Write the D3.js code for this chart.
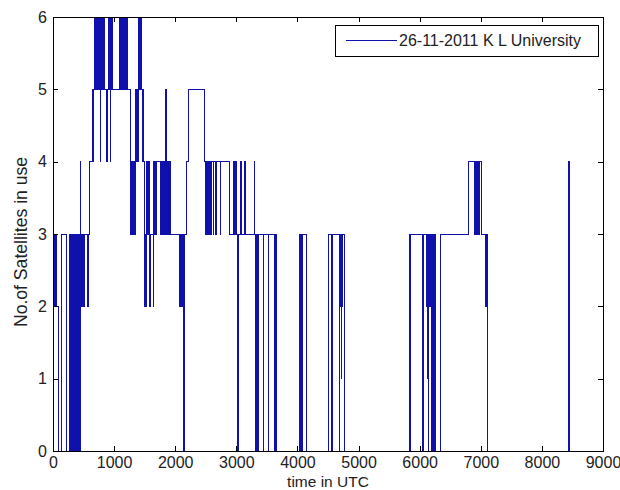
<!DOCTYPE html>
<html>
<head>
<meta charset="utf-8">
<script src="https://cdn.jsdelivr.net/npm/d3@7"></script>
<style>
  body { margin: 0; background: #fff; }
  svg { display: block; font-family: "Liberation Sans", Arial, sans-serif; }
</style>
</head>
<body>
<script>
// time stamps (s, UTC) where the satellite count changes
var timeUtc = [
  0, 10, 20, 30, 40, 50, 87, 142, 213, 267,
  282, 297, 312, 327, 342, 357, 376, 391, 406, 421,
  436, 442, 450, 465, 475, 485, 495, 505, 515, 562,
  575, 594, 650, 660, 670, 676, 690, 700, 712, 722,
  735, 745, 758, 770, 780, 785, 798, 810, 822, 832,
  840, 880, 886, 900, 912, 922, 934, 940, 952, 965,
  972, 1080, 1092, 1104, 1116, 1128, 1140, 1150, 1160, 1178,
  1190, 1200, 1216, 1260, 1272, 1284, 1296, 1308, 1320, 1332,
  1342, 1354, 1366, 1378, 1391, 1402, 1414, 1426, 1440, 1456,
  1466, 1478, 1488, 1494, 1505, 1520, 1532, 1545, 1560, 1587,
  1600, 1641, 1650, 1660, 1672, 1684, 1696, 1760, 1772, 1784,
  1796, 1808, 1820, 1832, 1848, 1855, 1868, 1880, 1892, 1905,
  1918, 1930, 2067, 2080, 2110, 2120, 2132, 2142, 2150, 2190,
  2225, 2487, 2503, 2515, 2527, 2540, 2552, 2565, 2580, 2590,
  2620, 2628, 2665, 2672, 2740, 2748, 2885, 2950, 2960, 2970,
  2980, 2990, 3005, 3016, 3022, 3030, 3070, 3080, 3141, 3150,
  3290, 3305, 3312, 3320, 3328, 3336, 3344, 3352, 3360, 3368,
  3441, 3448, 3523, 3530, 3632, 3640, 3648, 3655, 3662, 4041,
  4049, 4057, 4065, 4073, 4081, 4089, 4140, 4505, 4559, 4566,
  4573, 4580, 4684, 4690, 4700, 4708, 4716, 4724, 4732, 4739,
  4777, 5830, 5836, 5842, 5848, 5854, 6048, 6060, 6113, 6120,
  6128, 6136, 6140, 6146, 6152, 6160, 6168, 6174, 6195, 6202,
  6233, 6240, 6266, 6348, 6806, 6904, 6912, 6920, 6928, 6936,
  6944, 6952, 6960, 6968, 6975, 7013, 7080, 7088, 7096, 7102,
  7106, 8442, 8448, 8460
];

// number of satellites in use from that time on
var satsInUse = [
  3, 2, 3, 2, 3, 2, 0, 3, 0, 3,
  0, 3, 0, 3, 0, 3, 0, 3, 0, 3,
  0, 4, 3, 2, 3, 2, 3, 2, 3, 2,
  3, 4, 5, 4, 5, 6, 5, 6, 5, 6,
  5, 6, 5, 4, 5, 6, 5, 6, 5, 6,
  5, 4, 5, 6, 5, 6, 4, 6, 5, 6,
  5, 6, 5, 6, 5, 6, 5, 6, 5, 6,
  5, 6, 5, 3, 4, 3, 4, 3, 4, 3,
  5, 4, 5, 4, 6, 5, 6, 5, 6, 5,
  4, 5, 4, 2, 3, 2, 4, 3, 4, 2,
  3, 2, 4, 3, 4, 3, 4, 3, 4, 3,
  4, 3, 4, 3, 5, 3, 4, 3, 4, 3,
  4, 3, 2, 3, 2, 3, 2, 0, 3, 4,
  5, 4, 3, 4, 3, 4, 3, 4, 3, 4,
  3, 4, 3, 4, 3, 4, 3, 4, 3, 4,
  3, 4, 3, 2, 0, 3, 4, 3, 4, 3,
  4, 3, 0, 3, 0, 3, 0, 3, 0, 3,
  0, 3, 0, 3, 0, 3, 0, 3, 0, 3,
  0, 3, 0, 3, 0, 3, 0, 3, 0, 3,
  0, 3, 0, 3, 2, 3, 1, 3, 2, 3,
  0, 3, 0, 3, 0, 3, 0, 3, 2, 3,
  1, 3, 0, 3, 2, 3, 2, 3, 0, 3,
  0, 3, 0, 3, 4, 3, 4, 3, 4, 3,
  4, 3, 4, 3, 4, 3, 2, 3, 2, 3,
  0, 4, 0, 0
];

var xTicks = [0, 1000, 2000, 3000, 4000, 5000, 6000, 7000, 8000, 9000];
var yTicks = [0, 1, 2, 3, 4, 5, 6];
var seriesName = "26-11-2011 K L University";

var width = 620;
var height = 490;
var margin = {top: 17, left: 53, right: 17, bottom: 39};
var lineColor = "#1010ac";

var svg = d3.select("body")
  .append("svg")
  .attr("width", width)
  .attr("height", height);

var xScale = d3.scaleLinear()
  .domain([0, 9000])
  .range([margin.left, width - margin.right]);

var yScale = d3.scaleLinear()
  .domain([0, 6])
  .range([height - margin.bottom, margin.top]);

var data = timeUtc.map(function(t, i) { return {t: t, n: satsInUse[i]}; });

// the step line itself
var line = d3.line()
  .curve(d3.curveStepAfter)
  .x(function(d) { return xScale(d.t); })
  .y(function(d) { return yScale(d.n); });

svg.append("path")
  .datum(data)
  .attr("d", line)
  .attr("fill", "none")
  .attr("stroke", lineColor)
  .attr("stroke-width", 1)
  .attr("shape-rendering", "crispEdges");

// matlab style box with inward ticks on all four sides
function styleAxis(g) {
  g.selectAll("path, line").attr("stroke", "#000").attr("shape-rendering", "crispEdges");
  g.selectAll("text").attr("fill", "#222").attr("font-size", "16px");
}

svg.append("g")
  .attr("transform", `translate(0,${height - margin.bottom})`)
  .call(d3.axisBottom(xScale).tickValues(xTicks).tickSizeInner(-5).tickSizeOuter(0).tickPadding(6).tickFormat(d3.format("d")))
  .call(styleAxis);

svg.append("g")
  .attr("transform", `translate(0,${margin.top})`)
  .call(d3.axisTop(xScale).tickValues(xTicks).tickSizeInner(-5).tickSizeOuter(0).tickFormat(""))
  .call(styleAxis);

svg.append("g")
  .attr("transform", `translate(${margin.left},0)`)
  .call(d3.axisLeft(yScale).tickValues(yTicks).tickSizeInner(-5).tickSizeOuter(0).tickPadding(6).tickFormat(d3.format("d")))
  .call(styleAxis);

svg.append("g")
  .attr("transform", `translate(${width - margin.right},0)`)
  .call(d3.axisRight(yScale).tickValues(yTicks).tickSizeInner(-5).tickSizeOuter(0).tickFormat(""))
  .call(styleAxis);

// axis titles
svg.append("text")
  .attr("x", (margin.left + width - margin.right) / 2)
  .attr("y", 486.5)
  .attr("font-size", "15.5px")
  .attr("fill", "#222")
  .style("text-anchor", "middle")
  .text("time in UTC");

svg.append("text")
  .attr("transform", "rotate(-90)")
  .attr("x", -242)
  .attr("y", 27)
  .attr("font-size", "17.6px")
  .attr("fill", "#222")
  .style("text-anchor", "middle")
  .text("No.of Satellites in use");

// legend
var legend = svg.append("g");
legend.append("rect")
  .attr("x", 335.5)
  .attr("y", 25.5)
  .attr("width", 263)
  .attr("height", 31)
  .attr("fill", "#fff")
  .attr("stroke", "#000");
legend.append("line")
  .attr("x1", 346)
  .attr("x2", 397)
  .attr("y1", 40.5)
  .attr("y2", 40.5)
  .attr("stroke", lineColor);
legend.append("text")
  .attr("x", 399)
  .attr("y", 46)
  .attr("font-size", "16px")
  .attr("fill", "#222")
  .text(seriesName);
</script>
</body>
</html>
